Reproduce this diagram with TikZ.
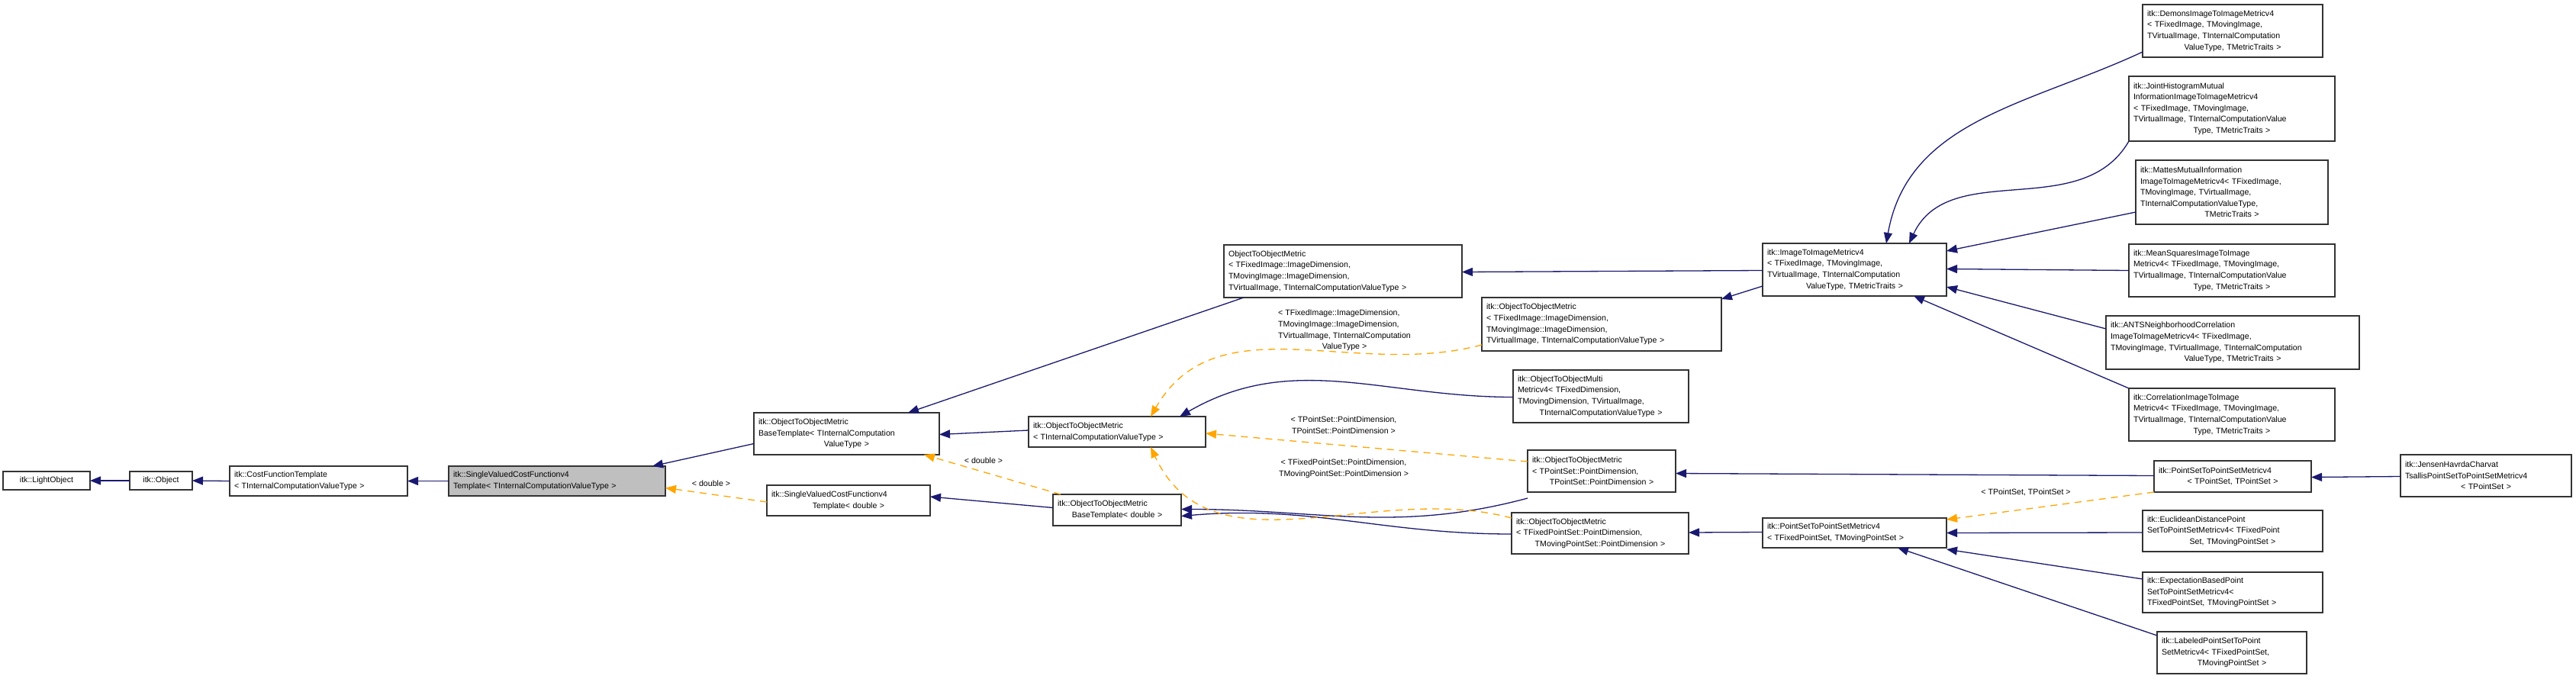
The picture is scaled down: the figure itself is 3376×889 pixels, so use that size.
\documentclass[tikz,border=0pt]{standalone}
\usepackage{fontspec}
\setmainfont{Liberation Sans}
\usetikzlibrary{arrows.meta,calc}
\definecolor{navy}{HTML}{191970}
\definecolor{orng}{HTML}{FFA500}
\definecolor{gfill}{HTML}{BFBFBF}
\newcommand\cl[1]{\hskip0pt plus1fill #1\hskip0pt plus1fill\null}
\newcommand\bx[7][]{\pgfmathsetmacro\bw{#5-#3}\pgfmathsetmacro\bh{#6-#4}\pgfmathsetmacro\tw{#5-#3-12}%
 \node[box,#1,minimum width=\bw pt,minimum height=\bh pt,text width=\tw pt] (#2) at ({(#3+#5)/2},{(#4+#6)/2}) {#7};}
\tikzset{
 box/.style={draw=black!80,line width=1.2pt,fill=white,inner xsep=6pt,inner ysep=2pt,outer sep=0pt,align=left,
   font=\fontsize{10.6}{14.6}\selectfont},
 inh/.style={draw=navy,line width=1.3pt,-{Triangle[length=14pt,width=11pt]}},
 tpl/.style={draw=orng,line width=1.3pt,dash pattern=on 9pt off 7pt,-{Triangle[length=14pt,width=11pt]}},
 lbl/.style={align=center,inner sep=0pt,font=\fontsize{10.6}{14.6}\selectfont}
}
\begin{document}
\begin{tikzpicture}[x=1pt,y=-1pt]
\useasboundingbox (0,0) rectangle (3376,889);
\bx[align=center]{n1}{4}{618}{118}{642}{itk::LightObject}
\bx[align=center]{n2}{170}{618}{252}{642}{itk::Object}
\bx{n3}{301}{611}{534}{650}{itk::CostFunctionTemplate\\< TInternalComputationValueType >}
\bx[fill=gfill]{n4}{588}{611}{872}{650}{itk::SingleValuedCostFunctionv4\\Template< TInternalComputationValueType >}
\bx{n5}{988}{541}{1231}{596}{itk::ObjectToObjectMetric\\BaseTemplate< TInternalComputation\\\cl{ValueType >}}
\bx{n6}{1005}{636}{1219}{676}{itk::SingleValuedCostFunctionv4\\\cl{Template< double >}}
\bx{n7}{1380}{648}{1548}{689}{itk::ObjectToObjectMetric\\\cl{BaseTemplate< double >}}
\bx{n8}{1348}{546}{1580}{586}{itk::ObjectToObjectMetric\\< TInternalComputationValueType >}
\bx{n9}{1604}{321}{1916}{390}{ObjectToObjectMetric\\< TFixedImage::ImageDimension,\\ TMovingImage::ImageDimension,\\ TVirtualImage, TInternalComputationValueType >}
\bx{n10}{1942}{390}{2256}{460}{itk::ObjectToObjectMetric\\< TFixedImage::ImageDimension,\\ TMovingImage::ImageDimension,\\ TVirtualImage, TInternalComputationValueType >}
\bx{n11}{1983}{485}{2213}{554}{itk::ObjectToObjectMulti\\Metricv4< TFixedDimension,\\ TMovingDimension, TVirtualImage,\\\cl{TInternalComputationValueType >}}
\bx{n12}{2002}{590}{2196}{645}{itk::ObjectToObjectMetric\\< TPointSet::PointDimension,\\\cl{TPointSet::PointDimension >}}
\bx{n13}{1981}{672}{2213}{726}{itk::ObjectToObjectMetric\\< TFixedPointSet::PointDimension,\\\cl{TMovingPointSet::PointDimension >}}
\bx{n14}{2310}{319}{2551}{388}{itk::ImageToImageMetricv4\\< TFixedImage, TMovingImage,\\ TVirtualImage, TInternalComputation\\\cl{ValueType, TMetricTraits >}}
\bx{n15}{2310}{679}{2551}{718}{itk::PointSetToPointSetMetricv4\\< TFixedPointSet, TMovingPointSet >}
\bx{n16}{2823}{604}{3029}{645}{itk::PointSetToPointSetMetricv4\\\cl{< TPointSet, TPointSet >}}
\bx{n17}{3146}{596}{3370}{651}{itk::JensenHavrdaCharvat\\TsallisPointSetToPointSetMetricv4\\\cl{< TPointSet >}}
\bx{n18}{2808}{6}{3044}{75}{itk::DemonsImageToImageMetricv4\\< TFixedImage, TMovingImage,\\ TVirtualImage, TInternalComputation\\\cl{ValueType, TMetricTraits >}}
\bx{n19}{2790}{100}{3060}{185}{itk::JointHistogramMutual\\InformationImageToImageMetricv4\\< TFixedImage, TMovingImage,\\ TVirtualImage, TInternalComputationValue\\\cl{Type, TMetricTraits >}}
\bx{n20}{2799}{210}{3051}{294}{itk::MattesMutualInformation\\ImageToImageMetricv4< TFixedImage,\\ TMovingImage, TVirtualImage,\\ TInternalComputationValueType,\\\cl{TMetricTraits >}}
\bx{n21}{2790}{320}{3060}{389}{itk::MeanSquaresImageToImage\\Metricv4< TFixedImage, TMovingImage,\\ TVirtualImage, TInternalComputationValue\\\cl{Type, TMetricTraits >}}
\bx{n22}{2760}{414}{3092}{484}{itk::ANTSNeighborhoodCorrelation\\ImageToImageMetricv4< TFixedImage,\\ TMovingImage, TVirtualImage, TInternalComputation\\\cl{ValueType, TMetricTraits >}}
\bx{n23}{2790}{509}{3060}{578}{itk::CorrelationImageToImage\\Metricv4< TFixedImage, TMovingImage,\\ TVirtualImage, TInternalComputationValue\\\cl{Type, TMetricTraits >}}
\bx{n24}{2808}{669}{3044}{723}{itk::EuclideanDistancePoint\\SetToPointSetMetricv4< TFixedPoint\\\cl{Set, TMovingPointSet >}}
\bx{n25}{2808}{750}{3044}{803}{itk::ExpectationBasedPoint\\SetToPointSetMetricv4<\\ TFixedPointSet, TMovingPointSet >}
\bx{n26}{2827}{828}{3023}{883}{itk::LabeledPointSetToPoint\\SetMetricv4< TFixedPointSet,\\\cl{TMovingPointSet >}}
% navy inheritance
\draw[inh] (n2.west) -- (n1.east);
\draw[inh] (n3.west) -- (n2.east);
\draw[inh] (n4.west) -- (n3.east);
\draw[inh] ([yshift=-13pt]n5.west) -- ([xshift=-17pt]n4.north east);
\draw[inh] ([yshift=2pt]n8.west) -- ([yshift=-1pt]n5.east);
\draw[inh] ([yshift=3pt]n7.west) -- ([yshift=5pt]n6.east);
\draw[inh] ([xshift=26pt]n9.south west) -- ([xshift=-41pt]n5.north east);
\draw[inh] ([yshift=-1pt]n11.west) to[out=180,in=30] ([xshift=-34pt]n8.north east);
\draw[inh] ([yshift=-8pt]n12.south west) to[out=195,in=0] ([yshift=1pt]n7.east);
\draw[inh] ([yshift=-1pt]n13.west) to[out=180,in=5] ([yshift=-8pt]n7.east);
\draw[inh] ([yshift=-1pt]n14.west) -- ([yshift=-1pt]n9.east);
\draw[inh] ([yshift=13pt]n14.south west) -- ([yshift=-2pt]n10.north east);
\draw[inh] ([yshift=1pt]n15.west) -- ([yshift=1pt]n13.east);
\draw[inh] ([yshift=1pt]n16.west) -- ([yshift=-3pt]n12.east);
\draw[inh] ([yshift=-1pt]n17.west) -- ([yshift=-1pt]n16.east);
\draw[inh] ([yshift=7pt]n18.south west) to[out=205,in=80] ([xshift=-79pt]n14.north east);
\draw[inh] (n19.south west) to[out=240,in=65] ([xshift=-49pt]n14.north east);
\draw[inh] ([yshift=16pt]n20.south west) -- ([yshift=-10pt]n14.north east);
\draw[inh] (n21.west) -- ([yshift=1pt]n14.east);
\draw[inh] ([yshift=-17pt]n22.north west) -- ([yshift=12pt]n14.south east);
\draw[inh] (n23.north west) -- ([xshift=-43pt]n14.south east);
\draw[inh] ([yshift=-2pt]n24.west) -- (n15.east);
\draw[inh] ([yshift=-9pt]n25.north west) -- ([yshift=-2pt]n15.south east);
\draw[inh] ([yshift=-5pt]n26.north west) -- ([xshift=-64pt]n15.south east);
% template instantiation
\draw[tpl] ([yshift=-2pt]n6.west) -- ([yshift=-9pt]n4.east);
\node[lbl] (l1) at (932,634) {< double >};
\draw[tpl] ([xshift=10pt]n7.north west) -- ([xshift=-20pt]n5.south east);
\node[lbl] (l2) at (1289,604) {< double >};
\draw[tpl] ([yshift=8pt]n10.south west) to[out=195,in=60] ([xshift=-72pt]n8.north east);
\node[lbl,align=left] (l3) at (1762,433) {< TFixedImage::ImageDimension,\\TMovingImage::ImageDimension,\\TVirtualImage, TInternalComputation\\\cl{ValueType >}};
\draw[tpl] ([yshift=-15pt]n12.north west) -- ([yshift=-2pt]n8.east);
\node[lbl] (l4) at (1761,557) {< TPointSet::PointDimension,\\TPointSet::PointDimension >};
\draw[tpl] ([yshift=-7pt]n13.north west) to[out=165,in=-65] ([xshift=-72pt]n8.south east);
\node[lbl] (l5) at (1761,614) {< TFixedPointSet::PointDimension,\\TMovingPointSet::PointDimension >};
\draw[tpl] (n16.south west) -- ([yshift=-2pt]n15.north east);
\node[lbl] (l6) at (2655,645) {< TPointSet, TPointSet >};
\end{tikzpicture}
\end{document}
